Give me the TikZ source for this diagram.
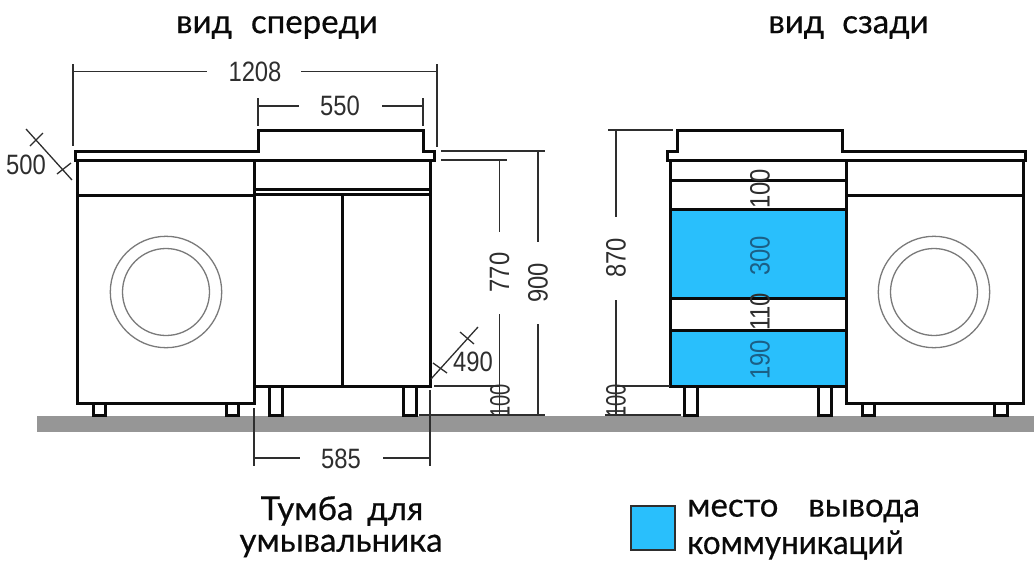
\documentclass[tikz,border=0pt]{standalone}
\usepackage{fontspec}
\usepackage{xcolor}
\usepackage{tikz}
\setmainfont[FakeBold=0.5]{Lato}
\newfontfamily\narrowtitle[FakeBold=0.5,FakeStretch=0.95]{Lato}
\newfontfamily\dimfont[FakeStretch=0.85]{Liberation Sans}
\newfontfamily\tightfont[FakeStretch=0.72]{Liberation Sans}
\definecolor{ink}{HTML}{0A0A0A}
\definecolor{thin}{HTML}{2E2E2E}
\definecolor{floorgrey}{HTML}{969696}
\definecolor{zone}{HTML}{29BFFC}
\definecolor{zonetext}{HTML}{1B5F86}
\definecolor{ringgrey}{HTML}{7A7A7A}
\tikzset{
  body/.style={draw=ink, line width=3pt, line join=miter},
  leg/.style={draw=ink, line width=3pt, fill=white},
  dimline/.style={draw=thin, line width=1.3pt},
  ring/.style={draw=ringgrey, line width=1.3pt},
  zonebox/.style={fill=zone},
  dimlab/.style={text=thin, font=\dimfont\fontsize{28}{30}\selectfont, inner sep=0pt},
  dimrot/.style={dimlab, rotate=90},
  dimtight/.style={dimrot, font=\tightfont\fontsize{28}{30}\selectfont},
  zonelab/.style={dimrot, text=zonetext},
  title/.style={text=ink, font=\fontsize{33}{36}\selectfont, inner sep=0pt},
  titlenarrow/.style={title, font=\narrowtitle\fontsize{33}{36}\selectfont},
}
\begin{document}
\begin{tikzpicture}[x=1pt,y=-1pt]
  \useasboundingbox (0,0) rectangle (1034,562);

  % dimension texts that the floor cuts
  \node[dimtight] (h100a) at (500,401) {100};
  \node[dimtight] (h100b) at (616,401) {100};

  % floor
  \fill[floorgrey] (37,416) rectangle (1034,432);

  % front view
  \draw[body] (75,151) -- (258,151) -- (258,130) -- (423,130) -- (423,151) -- (434,151) -- (434,160) -- (75,160) -- cycle;
  \draw[body] (77,160) rectangle (254,403);
  \draw[body] (77,195) -- (254,195);
  \draw[body] (254,160) -- (430,160) -- (430,386) -- (254,386);
  \draw[body] (254,189) -- (430,189);
  \draw[body] (254,194) -- (430,194);
  \draw[body] (342,194) -- (342,386);
  \draw[ring] (166,292) circle (55.7);
  \draw[ring] (166,292) circle (43.5);
  \foreach \a/\b in {93/105,226/238}
    \draw[leg] (\a,403) rectangle (\b,415);
  \foreach \a/\b in {269/282,403/416}
    \draw[leg] (\a,386) rectangle (\b,415);

  % back view
  \fill[zonebox] (670,209) rectangle (846,298);
  \fill[zonebox] (670,330) rectangle (846,386);
  \draw[body] (667,151) -- (677,151) -- (677,130) -- (842,130) -- (842,151) -- (1025,151) -- (1025,160) -- (667,160) -- cycle;
  \draw[body] (670,160) rectangle (846,386);
  \foreach \y in {180,209,298,330}
    \draw[body] (670,\y) -- (846,\y);
  \draw[body] (846,160) -- (1023,160) -- (1023,403) -- (846,403) -- (846,386);
  \draw[body] (846,195) -- (1023,195);
  \draw[ring] (934,292) circle (55.7);
  \draw[ring] (934,292) circle (43.5);
  \foreach \a/\b in {862/874,994/1007}
    \draw[leg] (\a,403) rectangle (\b,415);
  \foreach \a/\b in {684/697,818/831}
    \draw[leg] (\a,386) rectangle (\b,415);

  % dimensions, front
  \draw[dimline] (73,64) -- (73,146);
  \draw[dimline] (437,64) -- (437,147);
  \draw[dimline] (73,71.5) -- (207,71.5);
  \draw[dimline] (301,71.5) -- (437,71.5);
  \node[dimlab] (w1208) at (255,72) {1208};
  \draw[dimline] (258,98) -- (258,126);
  \draw[dimline] (423,98) -- (423,126);
  \draw[dimline] (258,106) -- (299,106);
  \draw[dimline] (382,106) -- (423,106);
  \node[dimlab] (w550) at (340,106) {550};
  \draw[dimline] (26,129) -- (72,180);
  \draw[dimline] (30,146) -- (43,133);
  \draw[dimline] (57,174) -- (71,163);
  \node[dimlab] (d500) at (26,165) {500};
  \draw[dimline] (441,151) -- (545,151);
  \draw[dimline] (441,160) -- (507,160);
  \draw[dimline] (499.5,160) -- (499.5,232);
  \draw[dimline] (499.5,314) -- (499.5,415);
  \draw[dimline] (538,151) -- (538,242);
  \draw[dimline] (538,324) -- (538,415);
  \node[dimrot] (h770) at (499.5,272.5) {770};
  \node[dimrot] (h900) at (538,283) {900};
  \draw[dimline] (431,379) -- (478,327);
  \draw[dimline] (433,363) -- (447,373);
  \draw[dimline] (460,332) -- (474,344);
  \node[dimlab] (d490) at (473,362) {490};
  \draw[dimline] (434,386) -- (500,386);
  \draw[dimline] (419,415) -- (545,415);
  \draw[dimline] (430,390) -- (430,466);
  \draw[dimline] (254,408) -- (254,466);
  \draw[dimline] (254,458) -- (300,458);
  \draw[dimline] (383,458) -- (430,458);
  \node[dimlab] (w585) at (341,459) {585};

  % dimensions, back
  \draw[dimline] (608,130) -- (673,130);
  \draw[dimline] (616,130) -- (616,217);
  \draw[dimline] (616,300) -- (616,415);
  \draw[dimline] (616,386) -- (670,386);
  \draw[dimline] (605,415) -- (681,415);
  \node[dimrot] (h870) at (616,258) {870};
  \node[dimrot] (z100) at (760,189) {100};
  \node[zonelab] (z300) at (760,256) {300};
  \node[dimrot] (z110) at (760,312) {110};
  \node[zonelab] (z190) at (760,360) {190};

  % captions
  \node[title] (front) at (277,27.5) {вид\hspace{19pt}спереди};
  \node[title] (back) at (848.5,27.5) {вид\hspace{18pt}сзади};
  \node[title] (cap1) at (342,511) {Тумба\hspace{14pt}для};
  \node[title] (cap2) at (341,546) {умывальника};
  \node[title,anchor=west] (cap3) at (687,511) {место\hspace{30pt}вывода};
  \node[titlenarrow,anchor=west] (cap4) at (687,545) {коммуникаций};
  \draw[draw=thin, line width=1.5pt, zonebox] (631,506) rectangle (675,550);
\end{tikzpicture}
\end{document}
